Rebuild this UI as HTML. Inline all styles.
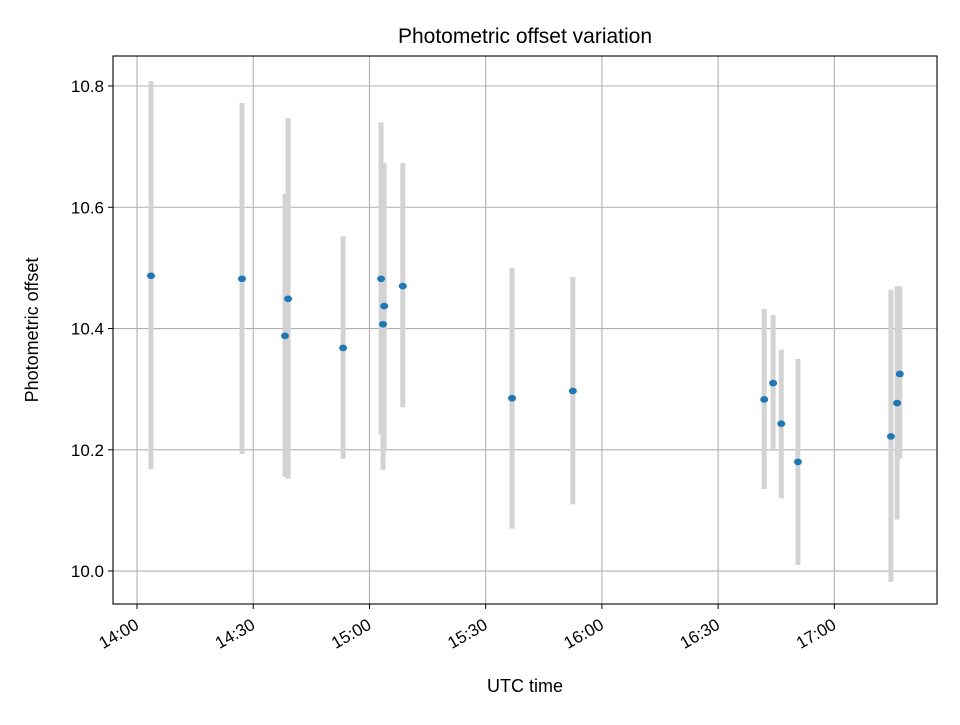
<!DOCTYPE html>
<html><head><meta charset="utf-8"><style>
body{margin:0;background:#fff}
svg text{font-family:"Liberation Sans","DejaVu Sans",sans-serif;fill:#000}
</style></head><body>
<svg id="chart" width="960" height="720" xmlns="http://www.w3.org/2000/svg">
<rect width="960" height="720" fill="#fff"/>
<g id="grid"></g><g id="bars"></g><g id="dots"></g><g id="axes"></g>
<text x="525" y="43" font-size="21" text-anchor="middle">Photometric offset variation</text>
<text x="525" y="692" font-size="18" text-anchor="middle">UTC time</text>
<text transform="translate(38,330) rotate(-90)" font-size="18" text-anchor="middle">Photometric offset</text>
</svg>
<script>
// minutes after 14:00 UTC
const times=[3.6,27.1,38.2,39.0,53.2,63.0,63.5,63.8,68.6,96.8,112.5,161.9,164.2,166.3,170.6,194.6,196.2,196.9];
const values=[10.487,10.482,10.388,10.449,10.368,10.482,10.407,10.437,10.470,10.285,10.297,10.283,10.310,10.243,10.180,10.222,10.277,10.325];
const lower=[10.168,10.193,10.155,10.152,10.185,10.225,10.167,10.200,10.270,10.070,10.110,10.135,10.198,10.120,10.010,9.982,10.085,10.185];
const upper=[10.808,10.772,10.622,10.747,10.552,10.740,10.647,10.673,10.673,10.500,10.485,10.432,10.422,10.365,10.350,10.464,10.470,10.470];
const yTicks=[10.0,10.2,10.4,10.6,10.8];
const xTicks=[0,30,60,90,120,150,180];
const xTickLabels=["14:00","14:30","15:00","15:30","16:00","16:30","17:00"];

const L=113,R=937,T=56,B=604;
const x0=-6.2,x1=206.5,y0=9.9456,y1=10.8495;
const X=m=>L+(m-x0)/(x1-x0)*(R-L);
const Y=v=>B-(v-y0)/(y1-y0)*(B-T);
const NS="http://www.w3.org/2000/svg";
function mk(tag,parent,attrs){const e=document.createElementNS(NS,tag);for(const k in attrs)e.setAttribute(k,attrs[k]);document.getElementById(parent).appendChild(e);return e;}

xTicks.forEach((t,i)=>{
  const gx=mk('line','grid',{x1:X(t),x2:X(t),y1:T,y2:B,stroke:'#b0b0b0','stroke-width':1.1});
  
  
  const tk=mk('line','axes',{x1:X(t),x2:X(t),y1:B,y2:B+5,stroke:'#000','stroke-width':1});
  
  
  const ax=X(t)+3, ay=B+24;
  const tx=mk('text','axes',{x:ax,y:ay,'font-size':17,'text-anchor':'end',transform:`rotate(-30 ${ax} ${ay})`});
  tx.textContent=xTickLabels[i];
  
  
});
yTicks.forEach(v=>{
  const gy=mk('line','grid',{x1:L,x2:R,y1:Y(v),y2:Y(v),stroke:'#b0b0b0','stroke-width':1.1});
  
  
  const tk=mk('line','axes',{x1:L-5,x2:L,y1:Y(v),y2:Y(v),stroke:'#000','stroke-width':1});
  
  
  const tx=mk('text','axes',{x:L-9,y:Y(v)+6,'font-size':17,'text-anchor':'end'});
  tx.textContent=v.toFixed(1);
  
  
});
times.forEach((t,i)=>{
  const b=mk('line','bars',{x1:X(t),x2:X(t),y1:Y(lower[i]),y2:Y(upper[i]),stroke:'#d3d3d3','stroke-width':5});
  
  
  const d=mk('ellipse','dots',{cx:X(t),cy:Y(values[i]),rx:4,ry:3.3,fill:'#1f77b4'});
  
  
});
const f=mk('rect','axes',{x:L,y:T,width:R-L,height:B-T,fill:'none',stroke:'#000','stroke-width':1.1});


</script>
</body></html>
